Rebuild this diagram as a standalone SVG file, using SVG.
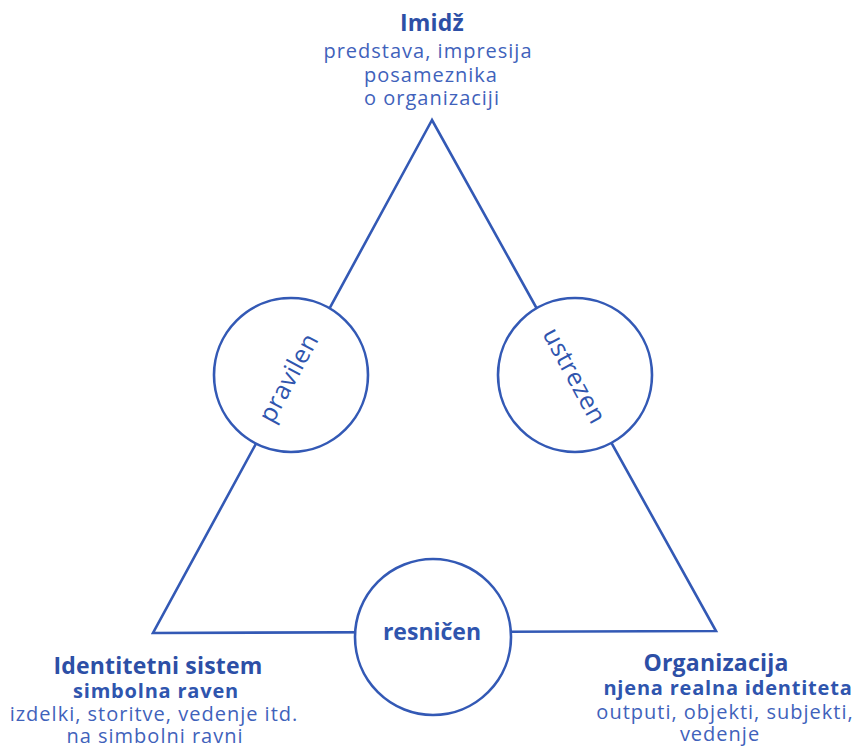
<svg xmlns="http://www.w3.org/2000/svg" width="858" height="749" viewBox="0 0 858 749">
  <style>
    .edge { fill: none; stroke: #3359b5; stroke-width: 2.6; stroke-linejoin: miter; }
    .ring { fill: #ffffff; stroke: #3359b5; stroke-width: 2.6; }
    text { font-family: "Open Sans", "Noto Sans", "Liberation Sans", sans-serif; text-anchor: middle; }
    .title { font-size: 23px; font-weight: bold; fill: #2d4fa6; letter-spacing: 0.2px; }
    .sub { font-size: 20px; font-weight: bold; fill: #2f55ae; letter-spacing: 0.8px; }
    .body { font-size: 20px; fill: #3f62bb; letter-spacing: 1px; }
    .ringlabel { font-size: 25px; fill: #2f55ae; letter-spacing: 0.4px; }
    .ringlabel-b { font-size: 23px; font-weight: bold; fill: #2f55ae; }
  </style>
  <rect width="858" height="749" fill="#ffffff"/>

  <!-- triangle edges; the rings sit on top and mask them -->
  <g id="connectors">
    <polygon class="edge" points="432,120 153,633 716,631"/>
  </g>

  <g id="node-imidz">
    <text class="title" x="432" y="31">Imidž</text>
    <text class="body" x="428" y="58">predstava, impresija</text>
    <text class="body" x="431" y="82">posameznika</text>
    <text class="body" x="432" y="105">o organizaciji</text>
  </g>

  <g id="node-identitetni-sistem">
    <text class="title" x="158" y="674">Identitetni sistem</text>
    <text class="sub" x="156" y="698">simbolna raven</text>
    <text class="body" x="154" y="721">izdelki, storitve, vedenje itd.</text>
    <text class="body" x="155" y="743">na simbolni ravni</text>
  </g>

  <g id="node-organizacija">
    <text class="title" x="716" y="671">Organizacija</text>
    <text class="sub" x="728" y="695">njena realna identiteta</text>
    <text class="body" x="725" y="719">outputi, objekti, subjekti,</text>
    <text class="body" x="720" y="741">vedenje</text>
  </g>

  <g id="node-pravilen">
    <circle class="ring" cx="291" cy="375" r="77"/>
    <text class="ringlabel" transform="translate(289,378) rotate(-61.5)" x="0" y="8">pravilen</text>
  </g>

  <g id="node-ustrezen">
    <circle class="ring" cx="575" cy="375" r="77"/>
    <text class="ringlabel" transform="translate(574,376) rotate(61.5)" x="0" y="8">ustrezen</text>
  </g>

  <g id="node-resnicen">
    <circle class="ring" cx="433" cy="637" r="78"/>
    <text class="ringlabel-b" x="432" y="640">resničen</text>
  </g>
</svg>
